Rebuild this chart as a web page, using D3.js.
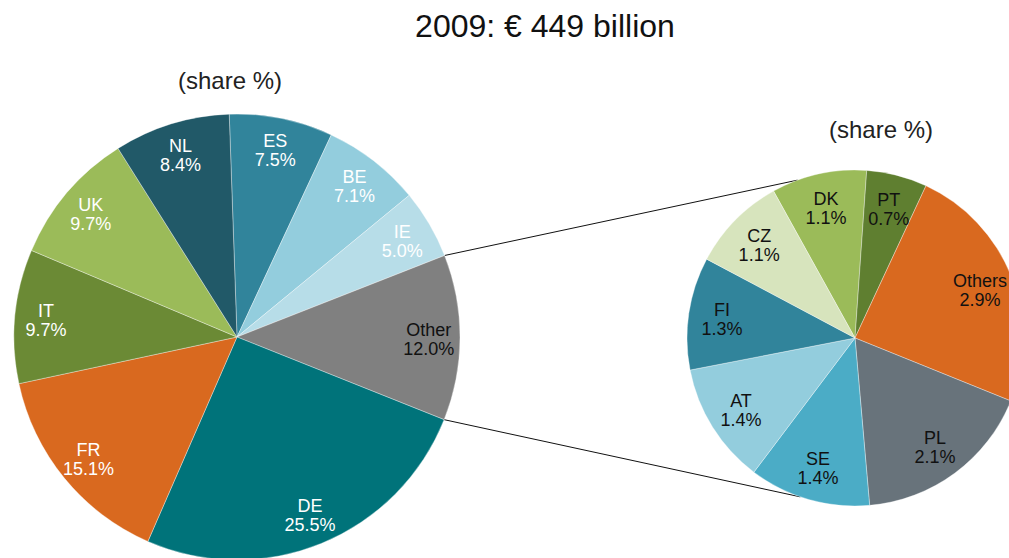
<!DOCTYPE html>
<html>
<head>
<meta charset="utf-8">
<script src="https://cdn.jsdelivr.net/npm/d3@7/dist/d3.min.js"></script>
<style>
  body { margin: 0; background: #fff; }
  text { font-family: "Liberation Sans", Arial, sans-serif; }
</style>
</head>
<body>
<script>
//Main pie data (share %), clockwise from the top.
var mainLabels = ["ES", "BE", "IE", "Other", "DE", "FR", "IT", "UK", "NL"];
var mainValues = [7.5, 7.1, 5.0, 12.0, 25.5, 15.1, 9.7, 9.7, 8.4];
var mainColors = ["#31849b", "#93cddd", "#b7dde8", "#808080", "#00737a", "#d9691f", "#6b8a35", "#9bbb59", "#215968"];
var mainText = ["#fff", "#fff", "#fff", "#111", "#fff", "#fff", "#fff", "#fff", "#fff"];

//Breakdown of "Other" (share %), clockwise from the top.
var subLabels = ["DK", "PT", "Others", "PL", "SE", "AT", "FI", "CZ"];
var subValues = [1.1, 0.7, 2.9, 2.1, 1.4, 1.4, 1.3, 1.1];
var subColors = ["#9bbb59", "#5f7f30", "#d9691f", "#68737b", "#4bacc6", "#93cddd", "#31849b", "#d7e4bd"];

var titleText = "2009: \u20ac 449 billion";
var subTitleText = "(share %)";

var width = 1009, height = 558;
var deg = Math.PI / 180;

var svg = d3.select("body").append("svg")
  .attr("width", width).attr("height", height);

svg.append("rect").attr("width", width).attr("height", height).attr("fill", "#fff");

//Geometry of the two pies.
var main = { cx: 237, cy: 337, r: 223, start: -2 * deg, labelR: 0.86 };
var sub = { cx: 855, cy: 338, r: 168, start: -29 * deg, labelR: 0.8 };

function pieLayout(values, startAngle) {
  return d3.pie().sort(null)
    .startAngle(startAngle).endAngle(startAngle + 2 * Math.PI)(values);
}

var mainArcs = pieLayout(mainValues, main.start);
var subArcs = pieLayout(subValues, sub.start);

function pointAt(p, angle, r) {
  return [p.cx + r * Math.sin(angle), p.cy - r * Math.cos(angle)];
}

//Connector lines from the "Other" slice to the second pie.
var otherArc = mainArcs[3];
var connectorAngles = [-20 * deg, 199 * deg];
var lineStarts = [pointAt(main, otherArc.startAngle, main.r), pointAt(main, otherArc.endAngle, main.r)];
var lineEnds = connectorAngles.map(function(a) { return pointAt(sub, a, sub.r); });

svg.selectAll(".connector").data([0, 1]).enter().append("line")
  .attr("class", "connector")
  .attr("x1", function(i) { return lineStarts[i][0]; })
  .attr("y1", function(i) { return lineStarts[i][1]; })
  .attr("x2", function(i) { return lineEnds[i][0]; })
  .attr("y2", function(i) { return lineEnds[i][1]; })
  .attr("stroke", "#111").attr("stroke-width", 1);

function drawPie(p, arcs, labels, colors, textColors) {
  var g = svg.append("g").attr("transform", "translate(" + p.cx + "," + p.cy + ")");
  var arc = d3.arc().innerRadius(0).outerRadius(p.r);
  var labelArc = d3.arc().innerRadius(p.r * p.labelR).outerRadius(p.r * p.labelR);

  g.selectAll("path").data(arcs).enter().append("path")
    .attr("d", arc)
    .attr("fill", function(d, i) { return colors[i]; })
    .attr("stroke", "rgba(255,255,255,0.5)")
    .attr("stroke-width", 0.7);

  var t = g.selectAll(".lbl").data(arcs).enter().append("text")
    .attr("class", "lbl")
    .attr("text-anchor", "middle")
    .attr("font-size", 18)
    .attr("fill", function(d, i) { return textColors ? textColors[i] : "#111"; })
    .attr("transform", function(d) { return "translate(" + labelArc.centroid(d) + ")"; });

  t.append("tspan").attr("x", 0).attr("y", -2)
    .text(function(d, i) { return labels[i]; });
  t.append("tspan").attr("x", 0).attr("y", 17)
    .text(function(d) { return d.value.toFixed(1) + "%"; });
}

drawPie(main, mainArcs, mainLabels, mainColors, mainText);
drawPie(sub, subArcs, subLabels, subColors, null);

//Titles.
svg.append("text").attr("x", 545).attr("y", 37)
  .attr("text-anchor", "middle").attr("font-size", 32).attr("fill", "#111")
  .text(titleText);

svg.append("text").attr("x", 230).attr("y", 89)
  .attr("text-anchor", "middle").attr("font-size", 24).attr("fill", "#222")
  .text(subTitleText);

svg.append("text").attr("x", 881).attr("y", 138)
  .attr("text-anchor", "middle").attr("font-size", 24).attr("fill", "#222")
  .text(subTitleText);
</script>
</body>
</html>
